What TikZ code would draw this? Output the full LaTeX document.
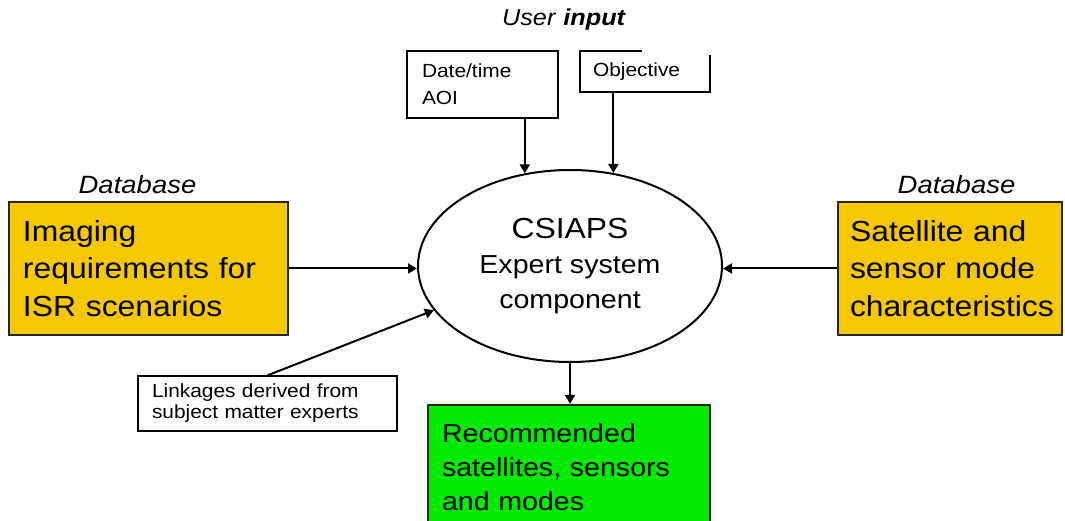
\documentclass[tikz,border=0pt]{standalone}
\usepackage{fontspec}
\setmainfont{Liberation Sans}[FakeStretch=1.1]
\usetikzlibrary{arrows.meta,shapes.geometric}
\definecolor{dbyellow}{RGB}{245,200,0}
\definecolor{outgreen}{RGB}{0,235,0}
\begin{document}
\begin{tikzpicture}[x=1pt,y=-1pt,
  arr/.style={line width=2pt,-{Triangle[length=9pt,width=10pt]}},
  dbbox/.style={draw=black!85,line width=2.4pt,fill=dbyellow,align=left,inner ysep=0pt,
    font=\fontsize{29}{37.5}\selectfont},
  inbox/.style={draw=black,line width=1.8pt,fill=white,align=left,inner ysep=0pt,
    font=\fontsize{19}{27}\selectfont},
  dblabel/.style={font=\fontsize{25}{30}\selectfont\itshape,inner sep=0pt}]
\useasboundingbox (0,0) rectangle (1065,521);

% title
\node[inner sep=0pt,font=\fontsize{23}{28}\selectfont] (user) at (564,20) {\textit{User} \textbf{\textit{input}}};

% user input boxes
\node[inbox,text width=121pt,inner xsep=15pt,minimum height=67pt] (dt) at (482.5,84.5) {Date/time\\AOI};
\node[align=left,inner ysep=0pt,text width=104pt,inner xsep=13pt,minimum height=41pt,
  font=\fontsize{19}{27}\selectfont] (obj) at (645,71.5) {Objective};
\draw[line width=1.8pt] ([xshift=62pt]obj.north west) -- (obj.north west) -- (obj.south west)
  -- (obj.south east) -- ([yshift=-4pt]obj.north east);

% central ellipse
\node[ellipse,draw,line width=2pt,minimum width=304pt,minimum height=192pt,align=center,
  inner sep=0pt,font=\fontsize{26}{35}\selectfont] (ell) at (570,266)
  {{\fontsize{29}{35}\selectfont CSIAPS}\\Expert system\\component};

% databases
\node[dblabel] (dbl) at (137.5,185) {Database};
\node[dblabel] (dbr) at (956.5,185) {Database};
\node[dbbox,text width=251pt,inner xsep=14pt,minimum height=133pt] (req) at (148.5,268.5)
  {Imaging\\requirements for\\ISR scenarios};
\node[dbbox,text width=200pt,inner xsep=12pt,minimum height=133pt] (sat) at (950,268.5)
  {Satellite and\\sensor mode\\characteristics};

% linkages
\node[inbox,line width=1.3pt,text width=231pt,inner xsep=14pt,minimum height=55pt,
  font=\fontsize{19}{21}\selectfont] (link) at (267.5,403.5)
  {Linkages derived from\\subject matter experts};

% output
\node[draw=black!85,line width=2.4pt,fill=outgreen,align=left,inner ysep=0pt,
  text width=254pt,inner xsep=14pt,minimum height=125pt,
  font=\fontsize{26}{34}\selectfont] (out) at (569,467.5)
  {Recommended\\satellites, sensors\\and modes};

% connectors
\draw[arr] (ell.116 |- dt.south) -- (ell.116);
\draw[arr] (ell.65 |- obj.south) -- (ell.65);
\draw[arr] (req.east) -- (req.east -| ell.west);
\draw[arr] (sat.west) -- (sat.west -| ell.east);
\draw[arr] (link.north) -- (ell.198);
\draw[arr] (ell.south) -- (ell.south |- out.north);
\end{tikzpicture}
\end{document}
